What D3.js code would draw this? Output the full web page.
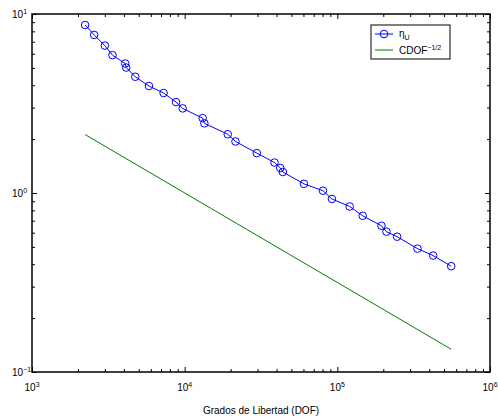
<!DOCTYPE html>
<html>
<head>
<meta charset="utf-8">
<script src="https://cdn.jsdelivr.net/npm/d3@7"></script>
<style>
  body { margin: 0; background: #fff; }
  text { font-family: "Liberation Sans", Arial, sans-serif; fill: #000; }
</style>
</head>
<body>
<script>
// estimator vs degrees of freedom, log-log
var dof = [2228, 2553, 3000, 3366, 4079, 4141, 4745, 5837, 7278, 8775, 9700,
  13120, 13460, 19150, 21520, 29690, 38800, 42270, 43960, 60400, 80500, 92200,
  120500, 146600, 194500, 209800, 246400, 335000, 424600, 557000];
var etaU = [8.68, 7.64, 6.66, 5.89, 5.29, 5.02, 4.46, 3.96, 3.62, 3.22, 2.97,
  2.62, 2.45, 2.13, 1.94, 1.67, 1.48, 1.38, 1.31, 1.125, 1.03, 0.926,
  0.841, 0.746, 0.656, 0.608, 0.570, 0.489, 0.447, 0.390];
// reference slope line endpoints
var refDof = [2228, 557000];
var refVal = [2.12, 0.134];

var xMajor = [3, 4, 5, 6];   // exponents
var yMajor = [-1, 0, 1];

var drawChart = function() {

var W = 498, H = 419;
var pLeft = 32, pRight = 490, pTop = 14, pBottom = 372;

var svg = d3.select("body").append("svg")
    .attr("width", W)
    .attr("height", H);

var x = d3.scaleLog().domain([1e3, 1e6]).range([pLeft, pRight]);
var y = d3.scaleLog().domain([0.1, 10]).range([pBottom, pTop]);

var minorX = [], minorY = [];
for (var e = 3; e < 6; e++) for (var m = 2; m < 10; m++) minorX.push(m * Math.pow(10, e));
for (var e2 = -1; e2 < 1; e2++) for (var m2 = 2; m2 < 10; m2++) minorY.push(m2 * Math.pow(10, e2));
var majX = xMajor.map(function(p) { return Math.pow(10, p); });
var majY = yMajor.map(function(p) { return Math.pow(10, p); });

function tickAxis(axis, vals, size, tr) {
  var g = svg.append("g")
      .attr("transform", tr)
      .call(axis.tickValues(vals).tickSize(size).tickFormat(""));
  g.select(".domain").remove();
  g.selectAll("line").attr("stroke", "#000").attr("stroke-width", 1);
}

// ticks point inward on all four sides
tickAxis(d3.axisBottom(x), minorX, -3, "translate(0," + pBottom + ")");
tickAxis(d3.axisBottom(x), majX, -5, "translate(0," + pBottom + ")");
tickAxis(d3.axisTop(x), minorX, -3, "translate(0," + pTop + ")");
tickAxis(d3.axisTop(x), majX, -5, "translate(0," + pTop + ")");
tickAxis(d3.axisLeft(y), minorY, -3, "translate(" + pLeft + ",0)");
tickAxis(d3.axisLeft(y), majY, -5, "translate(" + pLeft + ",0)");
tickAxis(d3.axisRight(y), minorY, -3, "translate(" + pRight + ",0)");
tickAxis(d3.axisRight(y), majY, -5, "translate(" + pRight + ",0)");

svg.append("rect")
    .attr("x", pLeft).attr("y", pTop)
    .attr("width", pRight - pLeft).attr("height", pBottom - pTop)
    .attr("fill", "none")
    .attr("stroke", "#000")
    .attr("stroke-width", 1.5);

// tick labels 10^n
xMajor.forEach(function(p) {
  var t = svg.append("text")
      .attr("x", x(Math.pow(10, p)) - 7.5)
      .attr("y", 391)
      .style("font-size", "10px");
  t.append("tspan").text("10");
  t.append("tspan").attr("dy", -4.5).style("font-size", "7px").text(p < 0 ? "\u2212" + (-p) : p);
});
yMajor.forEach(function(p) {
  var t = svg.append("text")
      .attr("x", 12)
      .attr("y", y(Math.pow(10, p)) + 4)
      .style("font-size", "10px");
  t.append("tspan").text("10");
  t.append("tspan").attr("dy", -4.5).style("font-size", "7px").text(p < 0 ? "\u2212" + (-p) : p);
});

svg.append("text")
    .attr("x", (pLeft + pRight) / 2)
    .attr("y", 414)
    .style("text-anchor", "middle")
    .style("font-size", "10px")
    .text("Grados de Libertad (DOF)");

// series
var line = d3.line()
    .x(function(d) { return x(d[0]); })
    .y(function(d) { return y(d[1]); });

var etaPts = d3.zip(dof, etaU);
var refPts = d3.zip(refDof, refVal);

svg.append("path")
    .attr("d", line(refPts))
    .attr("fill", "none")
    .attr("stroke", "#008000")
    .attr("stroke-width", 1);

svg.append("path")
    .attr("d", line(etaPts))
    .attr("fill", "none")
    .attr("stroke", "#0000ff")
    .attr("stroke-width", 1);

svg.selectAll(".mk")
    .data(etaPts)
    .enter().append("circle")
    .attr("class", "mk")
    .attr("cx", function(d) { return x(d[0]); })
    .attr("cy", function(d) { return y(d[1]); })
    .attr("r", 3.8)
    .attr("fill", "none")
    .attr("stroke", "#0000ff")
    .attr("stroke-width", 1);

// legend
var lg = svg.append("g");
lg.append("rect")
    .attr("x", 371).attr("y", 25)
    .attr("width", 79).attr("height", 34)
    .attr("fill", "#fff")
    .attr("stroke", "#000")
    .attr("stroke-width", 1);
lg.append("line")
    .attr("x1", 375).attr("x2", 393).attr("y1", 34).attr("y2", 34)
    .attr("stroke", "#0000ff");
lg.append("circle")
    .attr("cx", 384).attr("cy", 34).attr("r", 3.8)
    .attr("fill", "none").attr("stroke", "#0000ff");
lg.append("line")
    .attr("x1", 375).attr("x2", 393).attr("y1", 50).attr("y2", 50)
    .attr("stroke", "#008000");
var t1 = lg.append("text").attr("x", 399).attr("y", 37).style("font-size", "10px");
t1.append("tspan").text("\u03b7");
t1.append("tspan").attr("dy", 3).style("font-size", "7px").text("U");
var t2 = lg.append("text").attr("x", 399).attr("y", 54).style("font-size", "10px");
t2.append("tspan").text("CDOF");
t2.append("tspan").attr("dy", -4).style("font-size", "7px").text("\u22121/2");

};

drawChart();
</script>
</body>
</html>
